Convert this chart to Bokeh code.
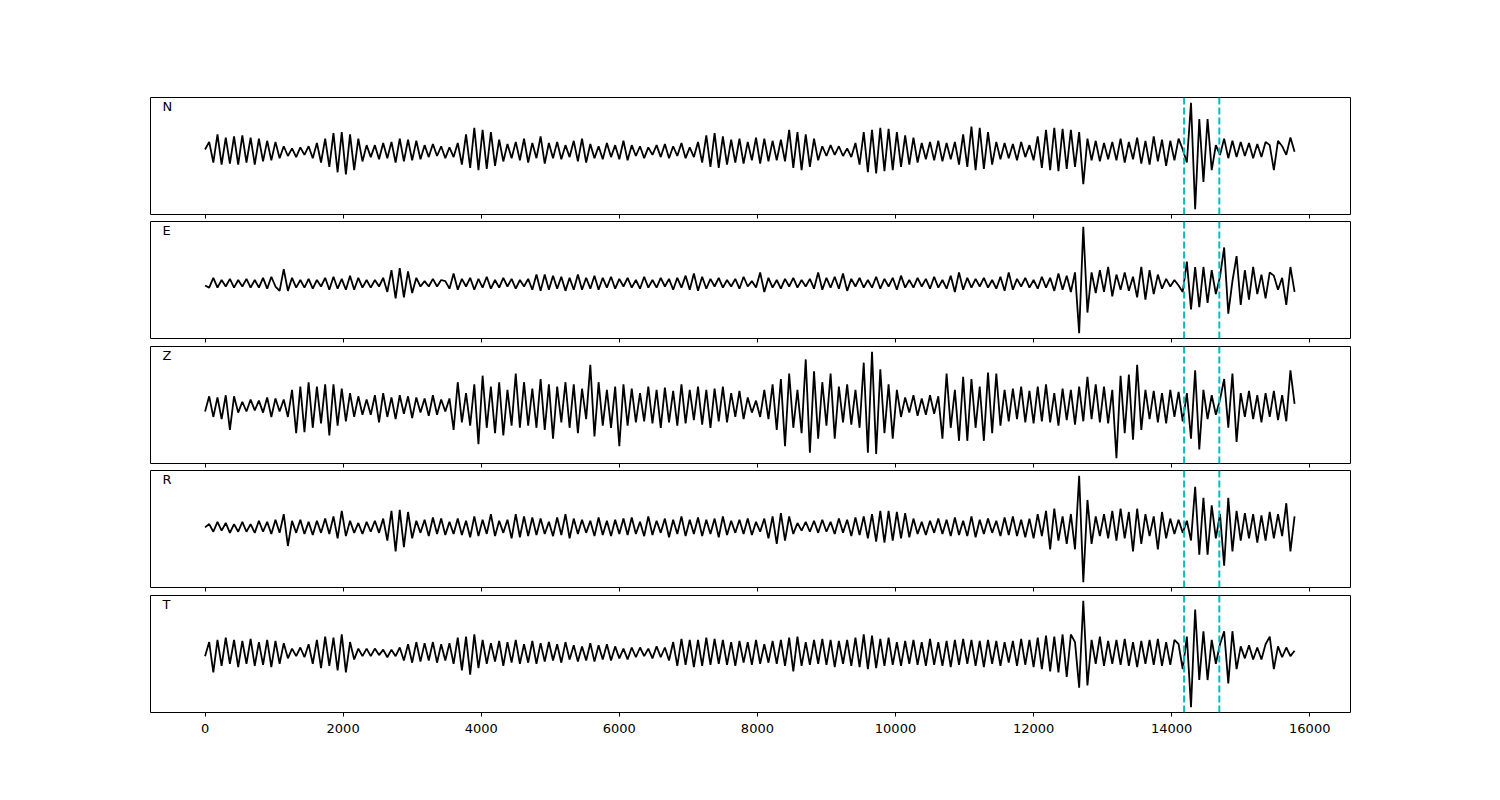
import numpy as np
from bokeh.plotting import figure
from bokeh.models import Range1d, DataRange1d, Span, Label, FixedTicker, CustomLabelingPolicy
from bokeh.layouts import column
from bokeh.embed import file_html
from bokeh.resources import INLINE

# sample spacing of the traces (x units per sample)
DT = 60

COMPONENTS = ["N", "E", "Z", "R", "T"]

N_AMP = [
    2, 9, -10, 16, -12, 13, -11, 14, -12, 15, -10, 13, -12, 12, -9, 10, -8, 9, -6, 5,
    -4, 3, -5, 4, -3, 5, -6, 8, -10, 12, -14, 17, -19, 18, -21, 16, -17, 12, -9, 6,
    -5, 6, -7, 8, -6, 9, -10, 12, -9, 11, -8, 10, -7, 6, -5, 7, -4, 5, -6, 4,
    -5, 8, -12, 16, -15, 22, -17, 20, -16, 18, -13, 11, -9, 7, -6, 9, -8, 12, -10, 8,
    -6, 14, -11, 8, -6, 9, -7, 6, -5, 10, -9, 12, -10, 7, -6, 5, -7, 8, -5, 6,
    -7, 10, -8, 6, -4, 5, -6, 4, -3, 6, -5, 7, -6, 5, -4, 8, -6, 4, -5, 9,
    -10, 15, -14, 17, -15, 14, -12, 11, -10, 12, -11, 9, -8, 13, -11, 12, -9, 10, -8, 11,
    -9, 20, -15, 18, -17, 16, -14, 12, -8, 5, -4, 6, -3, 5, -4, 3, -5, 8, -12, 18,
    -19, 20, -20, 22, -18, 21, -17, 18, -14, 15, -12, 13, -10, 8, -7, 9, -8, 10, -9, 8,
    -7, 9, -12, 16, -14, 23, -17, 22, -16, 18, -12, 9, -7, 8, -6, 7, -8, 9, -5, 6,
    -8, 14, -15, 20, -17, 22, -18, 21, -16, 20, -14, 18, -30, 12, -8, 10, -9, 8, -7, 9,
    -8, 12, -10, 9, -7, 13, -11, 10, -12, 14, -9, 11, -13, 10, -8, 12, 2, -10, 45, -53,
    30, -28, 30, -17, 6, -3, 12, -6, 10, -5, 9, -4, 8, -6, 7, -5, 9, 6, -17, 10,
    5, -3, 13, 0,
]

E_AMP = [
    -2, -4, 5, -4, 3, -3, 4, -4, 3, -3, 4, -4, 3, -4, 5, -5, 6, -3, -7, 13,
    -7, 5, -4, 3, -4, 4, -5, 3, -3, 5, -6, 6, -5, 4, -6, 7, -6, 5, -4, 3,
    -4, 3, -3, 5, -8, 12, -14, 14, -13, 11, -9, 5, -3, 2, -3, 4, -3, 3, 2, -5,
    9, -6, 4, -3, 5, -6, 4, -4, 6, -5, 3, -4, 5, -3, 4, -5, 3, -3, 4, -6,
    8, -7, 8, -6, 7, -5, 6, -7, 5, -6, 8, -6, 5, -5, 7, -6, 5, -4, 6, -5,
    4, -3, 5, -4, 3, -5, 6, -4, 3, -4, 5, -3, 4, -6, 5, -4, 7, -6, 9, -7,
    6, -5, 4, -3, 5, -4, 3, -3, 4, -5, 6, -3, 2, -4, 10, -8, 5, -4, 3, -5,
    4, -3, 5, -4, 3, -3, 4, -5, 10, -6, 5, -4, 6, -5, 9, -7, 4, -3, 5, -4,
    3, -4, 6, -5, 4, -3, 5, -6, 7, -4, 3, -4, 5, -3, 4, -5, 6, -4, 3, -5,
    7, -8, 10, -6, 5, -4, 4, -3, 5, -4, 3, -5, 6, -7, 10, -6, 4, -3, 5, -4,
    3, -5, 6, -4, 5, -7, 9, -6, 7, -8, 10, -46, 52, -27, 10, -9, 12, -8, 15, -12,
    8, -6, 10, -7, 6, -13, 15, -15, 12, -10, 8, -5, 4, -3, 3, -2, -8, 20, -24, 15,
    -22, 15, -18, 12, -10, 6, 33, -28, 2, 25, -20, 12, -15, 15, -10, 8, -14, 10, 7, -6,
    5, -20, 15, -8,
]

Z_AMP = [
    -5, 9, -10, 8, -12, 10, -22, 9, -6, 4, -5, 6, -4, 5, -6, 8, -10, 7, -5, 6,
    -10, 15, -25, 18, -24, 22, -20, 18, -16, 20, -27, 20, -18, 16, -14, 12, -10, 9, -8, 6,
    -8, 10, -15, 12, -10, 8, -12, 10, -7, 9, -11, 8, -6, 7, -9, 10, -8, 6, -5, 7,
    -22, 22, -15, 12, -18, 20, -35, 28, -20, 18, -25, 22, -27, 15, -18, 30, -20, 22, -18, 16,
    -20, 25, -22, 20, -30, 18, -15, 22, -20, 20, -25, 16, -12, 38, -28, 22, -18, 15, -20, 18,
    -37, 20, -18, 16, -15, 12, -14, 18, -16, 15, -20, 17, -15, 14, -18, 20, -16, 15, -13, 18,
    -17, 15, -20, 16, -14, 18, -15, 12, -10, 14, -12, 8, -6, 5, -10, 15, -12, 20, -22, 25,
    -37, 30, -20, 15, -25, 43, -43, 32, -30, 22, -18, 30, -30, 18, -15, 20, -17, 15, -20, 40,
    -43, 50, -44, 34, -25, 20, -30, 15, -10, 8, -6, 10, -9, 7, -8, 10, -7, 9, -30, 30,
    -20, 15, -32, 27, -32, 25, -20, 18, -32, 31, -25, 30, -18, 15, -14, 16, -12, 18, -15, 14,
    -16, 18, -14, 20, -15, 12, -18, 16, -13, 15, -17, 18, -14, 27, -12, 20, -15, 18, -16, 15,
    -48, 28, -25, 29, -31, 38, -22, 15, -12, 14, -15, 12, -16, 15, -10, 13, -14, 12, -30, 33,
    -40, 15, -12, 10, -8, 6, 25, -20, 30, -33, 12, -10, 14, -12, 10, -15, 12, -10, 14, -13,
    10, -14, 33, 2,
]

R_AMP = [
    0, 3, -4, 5, -3, 4, -5, 3, -4, 5, -4, 3, -5, 6, -4, 5, -6, 7, -5, 12,
    -17, 6, -5, 7, -6, 5, -7, 6, -5, 8, -6, 10, -10, 15, -8, 6, -5, 4, -6, 5,
    -4, 6, -5, 8, -12, 15, -22, 16, -18, 14, -10, 6, -5, 7, -8, 9, -6, 8, -7, 5,
    -6, 8, -7, 6, -9, 10, -8, 7, -6, 12, -8, 6, -5, 7, -10, 12, -9, 10, -8, 9,
    -7, 8, -6, 5, -8, 9, -7, 12, -10, 8, -6, 7, -5, 6, -8, 9, -7, 6, -8, 7,
    -6, 8, -7, 9, -6, 5, -8, 10, -7, 6, -5, 8, -9, 7, -6, 10, -8, 7, -6, 9,
    -8, 7, -6, 8, -9, 10, -7, 6, -5, 7, -6, 8, -7, 5, -4, 8, -10, 10, -15, 13,
    -12, 10, -6, 4, -3, 5, -4, 6, -5, 7, -4, 5, -6, 8, -5, 7, -8, 9, -7, 10,
    -10, 12, -13, 15, -14, 15, -12, 14, -10, 13, -9, 8, -6, 5, -7, 6, -5, 8, -6, 7,
    -8, 9, -7, 6, -8, 10, -9, 7, -6, 8, -5, 6, -8, 9, -7, 10, -8, 7, -9, 8,
    -10, 12, -8, 15, -20, 17, -12, 10, -15, 12, -20, 47, -50, 25, -15, 10, -8, 12, -10, 15,
    -12, 17, -10, 14, -22, 17, -15, 12, -8, 10, -20, 14, -10, 8, -6, 7, -5, 6, -12, 37,
    -25, 27, -25, 20, -10, 12, -35, 27, -22, 15, -12, 13, -10, 12, -14, 11, -12, 14, -10, 12,
    -8, 22, -22, 10,
]

T_AMP = [
    -3, 10, -18, 12, -12, 14, -10, 12, -13, 11, -10, 13, -12, 10, -11, 12, -13, 11, -10, 9,
    -5, 4, -3, 5, -4, 8, -10, 12, -14, 15, -12, 14, -16, 17, -18, 10, -6, 4, -3, 4,
    -3, 4, -2, 3, -4, 3, -3, 5, -7, 8, -9, 10, -8, 9, -7, 10, -9, 8, -7, 9,
    -10, 14, -16, 15, -20, 17, -14, 12, -10, 9, -8, 11, -12, 10, -9, 12, -10, 8, -9, 11,
    -10, 9, -8, 10, -7, 8, -9, 10, -6, 7, -8, 6, -7, 9, -8, 7, -6, 8, -7, 6,
    -5, 4, -6, 5, -4, 5, -3, 4, -5, 6, -4, 5, -7, 10, -12, 13, -11, 12, -13, 12,
    -12, 14, -11, 13, -10, 12, -11, 10, -12, 11, -9, 10, -11, 12, -10, 8, -9, 11, -10, 12,
    -12, 14, -17, 15, -12, 10, -11, 12, -10, 13, -11, 12, -13, 11, -10, 12, -12, 14, -13, 17,
    -15, 16, -14, 13, -12, 14, -11, 10, -12, 11, -10, 12, -11, 10, -12, 13, -11, 10, -12, 11,
    -13, 12, -11, 13, -10, 12, -12, 11, -13, 12, -10, 11, -12, 10, -9, 11, -12, 13, -11, 12,
    -13, 14, -15, 16, -17, 15, -18, 17, -22, 17, 10, -32, 48, -30, 12, -10, 15, -12, 11, -10,
    12, -11, 13, -12, 10, -13, 11, -10, 12, -11, 13, -12, 10, -11, 12, 8, -15, 15, -50, 40,
    -25, 20, -25, 12, -10, 8, 20, -28, 20, -15, 6, -5, 7, -6, 5, -6, 8, 15, -15, 6,
    -4, 5, -3, 2,
]

TRACES = [N_AMP, E_AMP, Z_AMP, R_AMP, T_AMP]
PICKS = [14180, 14690]
X_TICKS = [0, 2000, 4000, 6000, 8000, 10000, 12000, 14000, 16000]
X_START, X_END = -790, 16590

shared_x = Range1d(X_START, X_END)
bottom_gaps = [7, 8, 7, 8]

# hides every tick label of the upper panels (tick marks stay)
no_labels = CustomLabelingPolicy(code="""
    for (const i of indices) { indices.unset(i) }
    return indices
""")

figs = []
for i, (name, amp) in enumerate(zip(COMPONENTS, TRACES)):
    last = i == len(COMPONENTS) - 1
    p = figure(
        frame_width=1200, frame_height=117,
        x_range=shared_x, y_range=DataRange1d(range_padding=0.1),
        output_backend="svg", toolbar_location=None, y_axis_location=None,
        min_border_left=150, min_border_right=136,
        min_border_top=97 if i == 0 else 0,
        min_border_bottom=40 if last else bottom_gaps[i],
    )
    p.xgrid.visible = False
    p.ygrid.visible = False
    p.outline_line_color = "black"
    p.outline_line_width = 1
    p.background_fill_color = "white"
    p.border_fill_color = "white"

    ax = p.xaxis[0]
    ax.ticker = FixedTicker(ticks=X_TICKS)
    ax.axis_line_color = None
    ax.major_tick_line_color = "black"
    ax.major_tick_out = 4
    ax.major_tick_in = 0
    ax.minor_tick_line_color = None
    ax.major_label_text_font = "DejaVu Sans"
    ax.major_label_text_color = "black"
    if last:
        ax.major_label_text_font_size = "13px"
        ax.major_label_standoff = 7
    else:
        ax.major_label_text_font_size = "0px"
        ax.major_label_standoff = 0
        ax.major_label_policy = no_labels

    t = np.arange(len(amp)) * DT
    p.line(t, amp, line_color="black", line_width=1.8)

    for pk in PICKS:
        p.add_layout(Span(location=pk, dimension="height", line_color="#00bfbf",
                          line_width=2, line_dash="7 3"))

    p.add_layout(Label(x=12, y=116, x_units="screen", y_units="screen", text=name,
                       text_font="DejaVu Sans", text_font_size="13px",
                       text_color="black", text_baseline="top"))
    figs.append(p)

layout = column(*figs, spacing=0)
open("out.html", "w").write(file_html(layout, INLINE))
